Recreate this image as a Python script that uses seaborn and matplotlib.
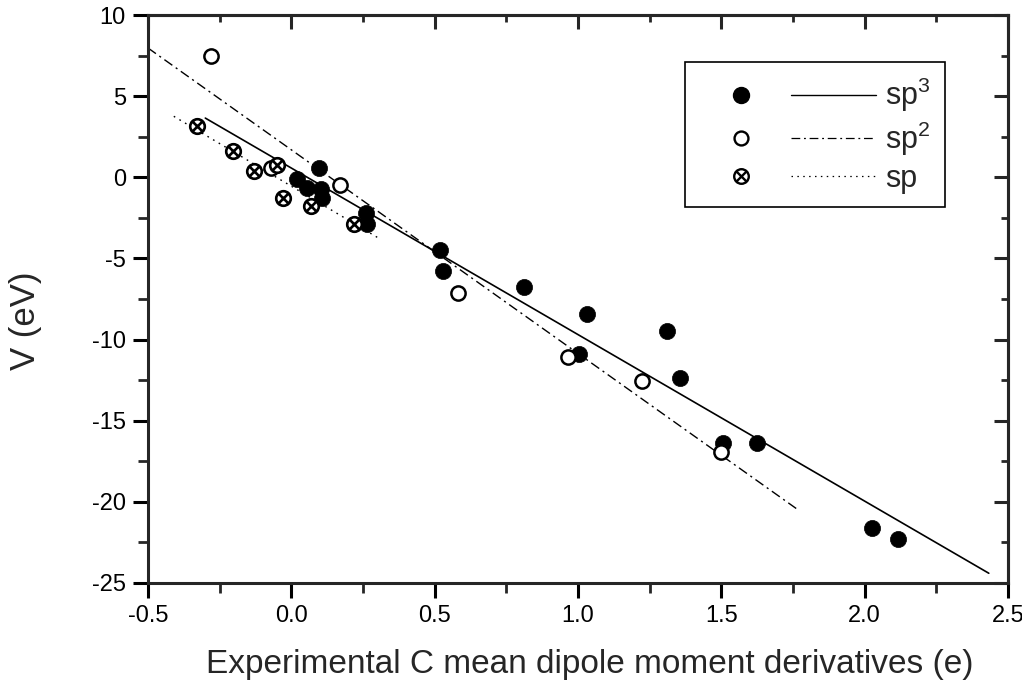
import numpy as np
import seaborn as sns
import matplotlib.pyplot as plt
from matplotlib.lines import Line2D
from matplotlib.legend_handler import HandlerTuple
from matplotlib.ticker import MultipleLocator
from matplotlib.path import Path

# data
sp3_x = [0.02, 0.055, 0.096, 0.105, 0.108, 0.26, 0.265, 0.52, 0.53, 0.81, 1.03, 1.005, 1.31, 1.355, 1.505, 1.625, 2.025, 2.115]
sp3_y = [-0.1, -0.65, 0.57, -0.75, -1.3, -2.2, -2.85, -4.45, -5.75, -6.75, -8.45, -10.9, -9.45, -12.35, -16.4, -16.4, -21.6, -22.3]

sp2_x = [-0.28, -0.07, 0.17, 0.58, 0.965, 1.225, 1.50]
sp2_y = [7.5, 0.55, -0.45, -7.1, -11.1, -12.55, -16.9]

sp_x = [-0.33, -0.205, -0.13, -0.05, -0.03, 0.07, 0.22]
sp_y = [3.15, 1.6, 0.4, 0.75, -1.25, -1.75, -2.9]

# fitted lines (end points)
sp3_fit_x = [-0.30, 2.433]
sp3_fit_y = [3.65, -24.4]
sp2_fit_x = [-0.50, 1.766]
sp2_fit_y = [7.97, -20.47]
sp_fit_x = [-0.41, 0.30]
sp_fit_y = [3.76, -3.70]

sns.set_theme(style="ticks")
plt.rcParams['font.family'] = ['Liberation Sans', 'DejaVu Sans']
plt.rcParams['mathtext.fontset'] = 'custom'
plt.rcParams['mathtext.rm'] = 'Liberation Sans'
plt.rcParams['mathtext.default'] = 'regular'

# circle with a cross inside
circ = Path.unit_circle()
cross = Path([(-0.68, -0.68), (0.68, 0.68), (-0.68, 0.68), (0.68, -0.68)],
             [Path.MOVETO, Path.LINETO, Path.MOVETO, Path.LINETO])
otimes = Path.make_compound_path(circ, cross)

fig, ax = plt.subplots(figsize=(10.22, 6.84), dpi=100)
fig.subplots_adjust(left=0.1448, right=0.9863, top=0.978, bottom=0.1477)

dashdot = (0, (7, 3, 1.5, 3))
dotted = (0, (1.2, 3.5))

sns.lineplot(x=sp3_fit_x, y=sp3_fit_y, color='black', lw=1.2, ax=ax)
sns.lineplot(x=sp2_fit_x, y=sp2_fit_y, color='black', lw=1.0, linestyle=dashdot, ax=ax)
sns.lineplot(x=sp_fit_x, y=sp_fit_y, color='black', lw=1.0, linestyle=dotted, ax=ax)

sns.scatterplot(x=sp3_x, y=sp3_y, marker='o', s=135, color='black', edgecolor='black', linewidth=0.5, ax=ax, zorder=3)
sns.scatterplot(x=sp2_x, y=sp2_y, marker='o', s=105, facecolor='white', edgecolor='black', linewidth=1.8, ax=ax, zorder=3)
sns.scatterplot(x=sp_x, y=sp_y, marker=otimes, s=110, facecolor='white', edgecolor='black', linewidth=1.9, ax=ax, zorder=3)

ax.set_xlim(-0.5, 2.5)
ax.set_ylim(-25, 10)
ax.xaxis.set_major_locator(MultipleLocator(0.5))
ax.xaxis.set_minor_locator(MultipleLocator(0.25))
ax.yaxis.set_major_locator(MultipleLocator(5))
ax.yaxis.set_minor_locator(MultipleLocator(2.5))
ax.xaxis.set_major_formatter(lambda v, p: f"{v:.1f}")
ax.yaxis.set_major_formatter(lambda v, p: f"{v:.0f}")

for sp in ax.spines.values():
    sp.set_linewidth(2.2)
    sp.set_visible(True)
ax.tick_params(which='major', direction='out', length=11, width=2.2, labelsize=17, colors='black', pad=5)
ax.tick_params(which='minor', direction='out', length=7, width=2.0)

# inward ticks on top and right
top = ax.secondary_xaxis('top')
top.xaxis.set_major_locator(MultipleLocator(0.5))
top.xaxis.set_minor_locator(MultipleLocator(0.25))
top.tick_params(which='major', direction='in', length=10, width=2.2, labeltop=False)
top.tick_params(which='minor', direction='in', length=5, width=2.0)
top.spines['top'].set_linewidth(2.2)
right = ax.secondary_yaxis('right')
right.yaxis.set_major_locator(MultipleLocator(5))
right.yaxis.set_minor_locator(MultipleLocator(2.5))
right.tick_params(which='major', direction='in', length=10, width=2.2, labelright=False)
right.tick_params(which='minor', direction='in', length=5, width=2.0)
right.spines['right'].set_linewidth(2.2)

ax.set_xlabel("Experimental C mean dipole moment derivatives (e)", fontsize=24)
ax.set_ylabel("V (eV)", fontsize=25)
ax.xaxis.set_label_coords(0.514, -0.117)
ax.yaxis.set_label_coords(-0.123, 0.461)

# legend: marker + line side by side
h3 = (Line2D([], [], marker='o', ms=11.5, color='black', ls='none'),
      Line2D([], [], color='black', lw=1.0))
h2 = (Line2D([], [], marker='o', ms=10, mfc='white', mec='black', mew=1.7, ls='none'),
      Line2D([], [], color='black', lw=0.9, linestyle=dashdot))
h1 = (Line2D([], [], marker=otimes, ms=10.5, mfc='white', mec='black', mew=1.7, ls='none'),
      Line2D([], [], color='black', lw=0.9, linestyle=dotted))
leg = ax.legend([h3, h2, h1], ["sp$^3$", "sp$^2$", "sp"],
                handler_map={tuple: HandlerTuple(ndivide=None, pad=0.27)},
                loc='upper left', bbox_to_anchor=(0.624, 0.917), borderaxespad=0,
                fontsize=22, handlelength=5.82, handletextpad=0.3,
                labelspacing=0.18, borderpad=0.45, frameon=True,
                fancybox=False, framealpha=1, edgecolor='black')
leg.get_frame().set_linewidth(1.2)

fig.savefig("out.png", dpi=100)
